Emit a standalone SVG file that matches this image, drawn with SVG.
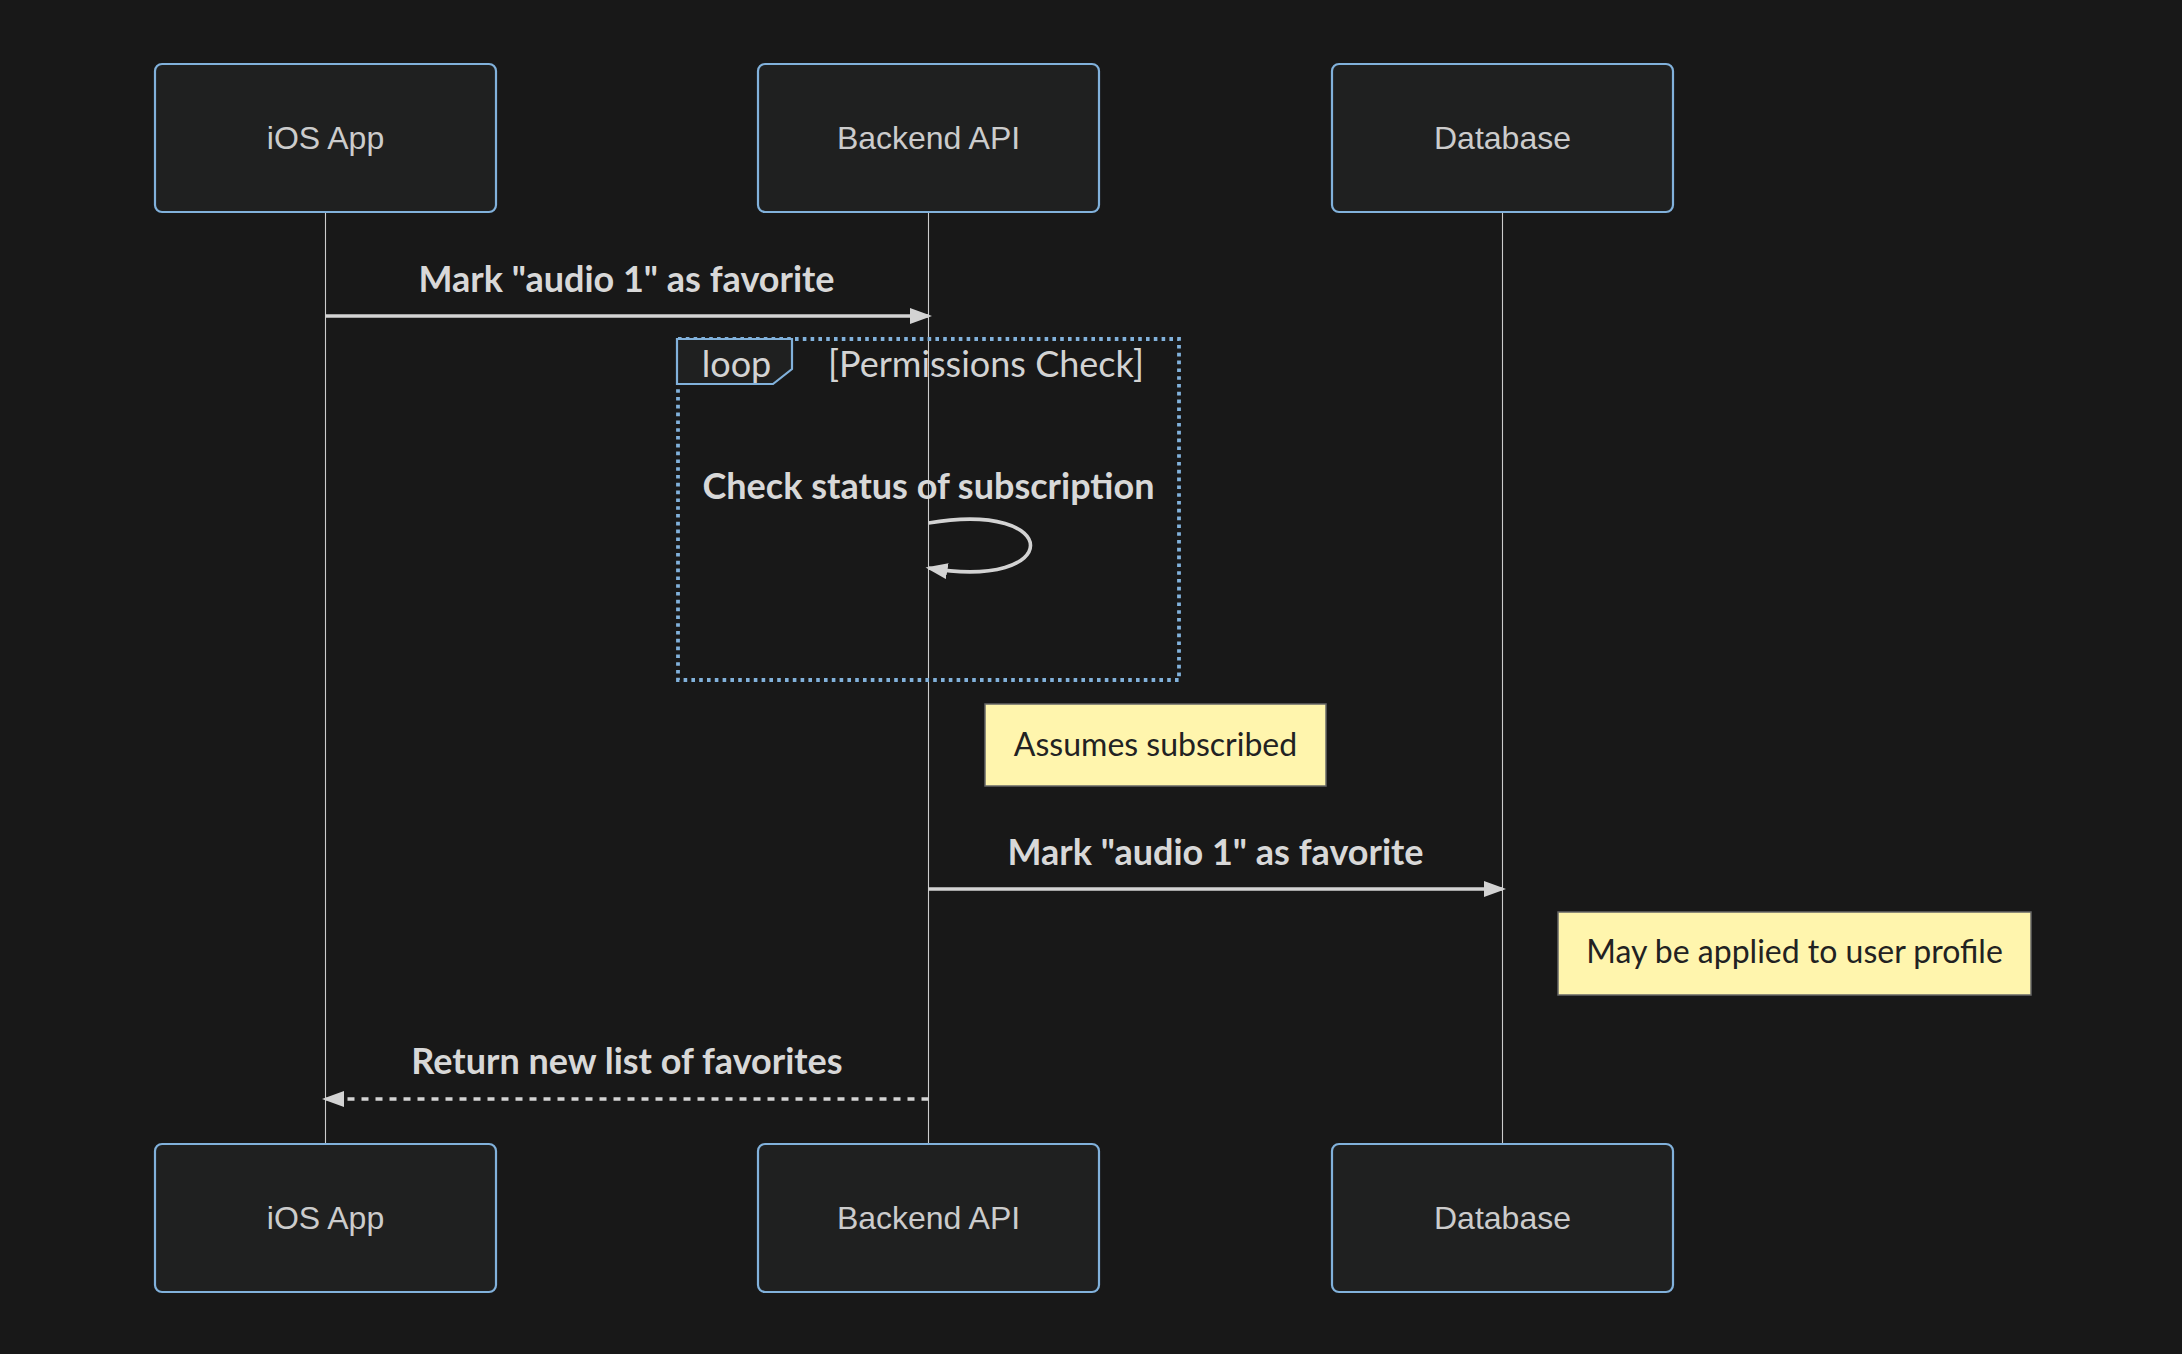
<svg xmlns="http://www.w3.org/2000/svg" width="2182" height="1354" viewBox="0 0 2182 1354">
<defs>
<style>
.actor rect{fill:#1f2020;stroke:#81b1db;stroke-width:2.2}
.actor text{font-family:"Liberation Sans",Arial,sans-serif;font-size:32px;fill:#cccccc;text-anchor:middle}
.life{stroke:#cccccc;stroke-width:1.1}
.msg{stroke:#d3d3d3;stroke-width:3.6;fill:none}
.dash{stroke-dasharray:7 7}
.mtext{font-family:Lato,"Open Sans",sans-serif;font-weight:bold;font-size:36px;fill:#d8d8d8;text-anchor:middle}
.loopline{fill:none;stroke:#81b1db;stroke-width:3.8;stroke-dasharray:3.6 4.2}
.looplabel{fill:#1f2020;stroke:#81b1db;stroke-width:2.2}
.ltext{font-family:Lato,"Open Sans",sans-serif;font-size:36px;fill:#d3d3d3;text-anchor:middle}
.note rect{fill:#fff5ad;stroke:#666666;stroke-width:1.5}
.note text{font-family:Lato,"Open Sans",sans-serif;font-size:32px;fill:#222222;text-anchor:middle}
</style>
<marker id="arrow" markerUnits="userSpaceOnUse" markerWidth="24" markerHeight="18" refX="19" refY="8" orient="auto" viewBox="0 0 24 18">
<path d="M0,0 L22,8 L0,16 z" fill="#d3d3d3"/>
</marker>
</defs>
<rect x="0" y="0" width="2182" height="1354" fill="#181818"/>

<g id="lifelines">
<line class="life" x1="325.5" y1="212" x2="325.5" y2="1144"/>
<line class="life" x1="928.5" y1="212" x2="928.5" y2="1144"/>
<line class="life" x1="1502.5" y1="212" x2="1502.5" y2="1144"/>
</g>

<g id="actor-ios-top" class="actor"><rect x="155" y="64" width="341" height="148" rx="7"/><text x="325.5" y="149">iOS App</text></g>
<g id="actor-backend-top" class="actor"><rect x="758" y="64" width="341" height="148" rx="7"/><text x="928.5" y="149">Backend API</text></g>
<g id="actor-db-top" class="actor"><rect x="1332" y="64" width="341" height="148" rx="7"/><text x="1502.5" y="149">Database</text></g>

<g id="loop">
<rect class="loopline" x="678" y="339" width="501" height="341"/>
<path class="looplabel" d="M677,339 L792,339 L792,369 L773,384 L677,384 z"/>
<text class="ltext" x="736.5" y="377">loop</text>
<text class="ltext" x="986" y="377">[Permissions Check]</text>
</g>

<g id="connectors">
<line class="msg" x1="325.5" y1="316" x2="929" y2="316" marker-end="url(#arrow)"/>
<text class="mtext" x="626.5" y="292">Mark "audio 1" as favorite</text>
<path class="msg" d="M928.5,523 C1064.5,500 1064.5,591 928.5,568" marker-end="url(#arrow)"/>
<text class="mtext" x="928.5" y="499">Check status of subscription</text>
<line class="msg" x1="928.5" y1="889" x2="1503" y2="889" marker-end="url(#arrow)"/>
<text class="mtext" x="1215.5" y="865">Mark "audio 1" as favorite</text>
<line class="msg dash" x1="928.5" y1="1099" x2="325" y2="1099" marker-end="url(#arrow)"/>
<text class="mtext" x="627" y="1074">Return new list of favorites</text>
</g>

<g id="note-assumes" class="note"><rect x="985" y="704" width="341" height="82"/><text x="1155.5" y="756">Assumes subscribed</text></g>
<g id="note-profile" class="note"><rect x="1558" y="912" width="473" height="83"/><text x="1794.5" y="963">May be applied to user profile</text></g>

<g id="actor-ios-bottom" class="actor"><rect x="155" y="1144" width="341" height="148" rx="7"/><text x="325.5" y="1229">iOS App</text></g>
<g id="actor-backend-bottom" class="actor"><rect x="758" y="1144" width="341" height="148" rx="7"/><text x="928.5" y="1229">Backend API</text></g>
<g id="actor-db-bottom" class="actor"><rect x="1332" y="1144" width="341" height="148" rx="7"/><text x="1502.5" y="1229">Database</text></g>
</svg>
